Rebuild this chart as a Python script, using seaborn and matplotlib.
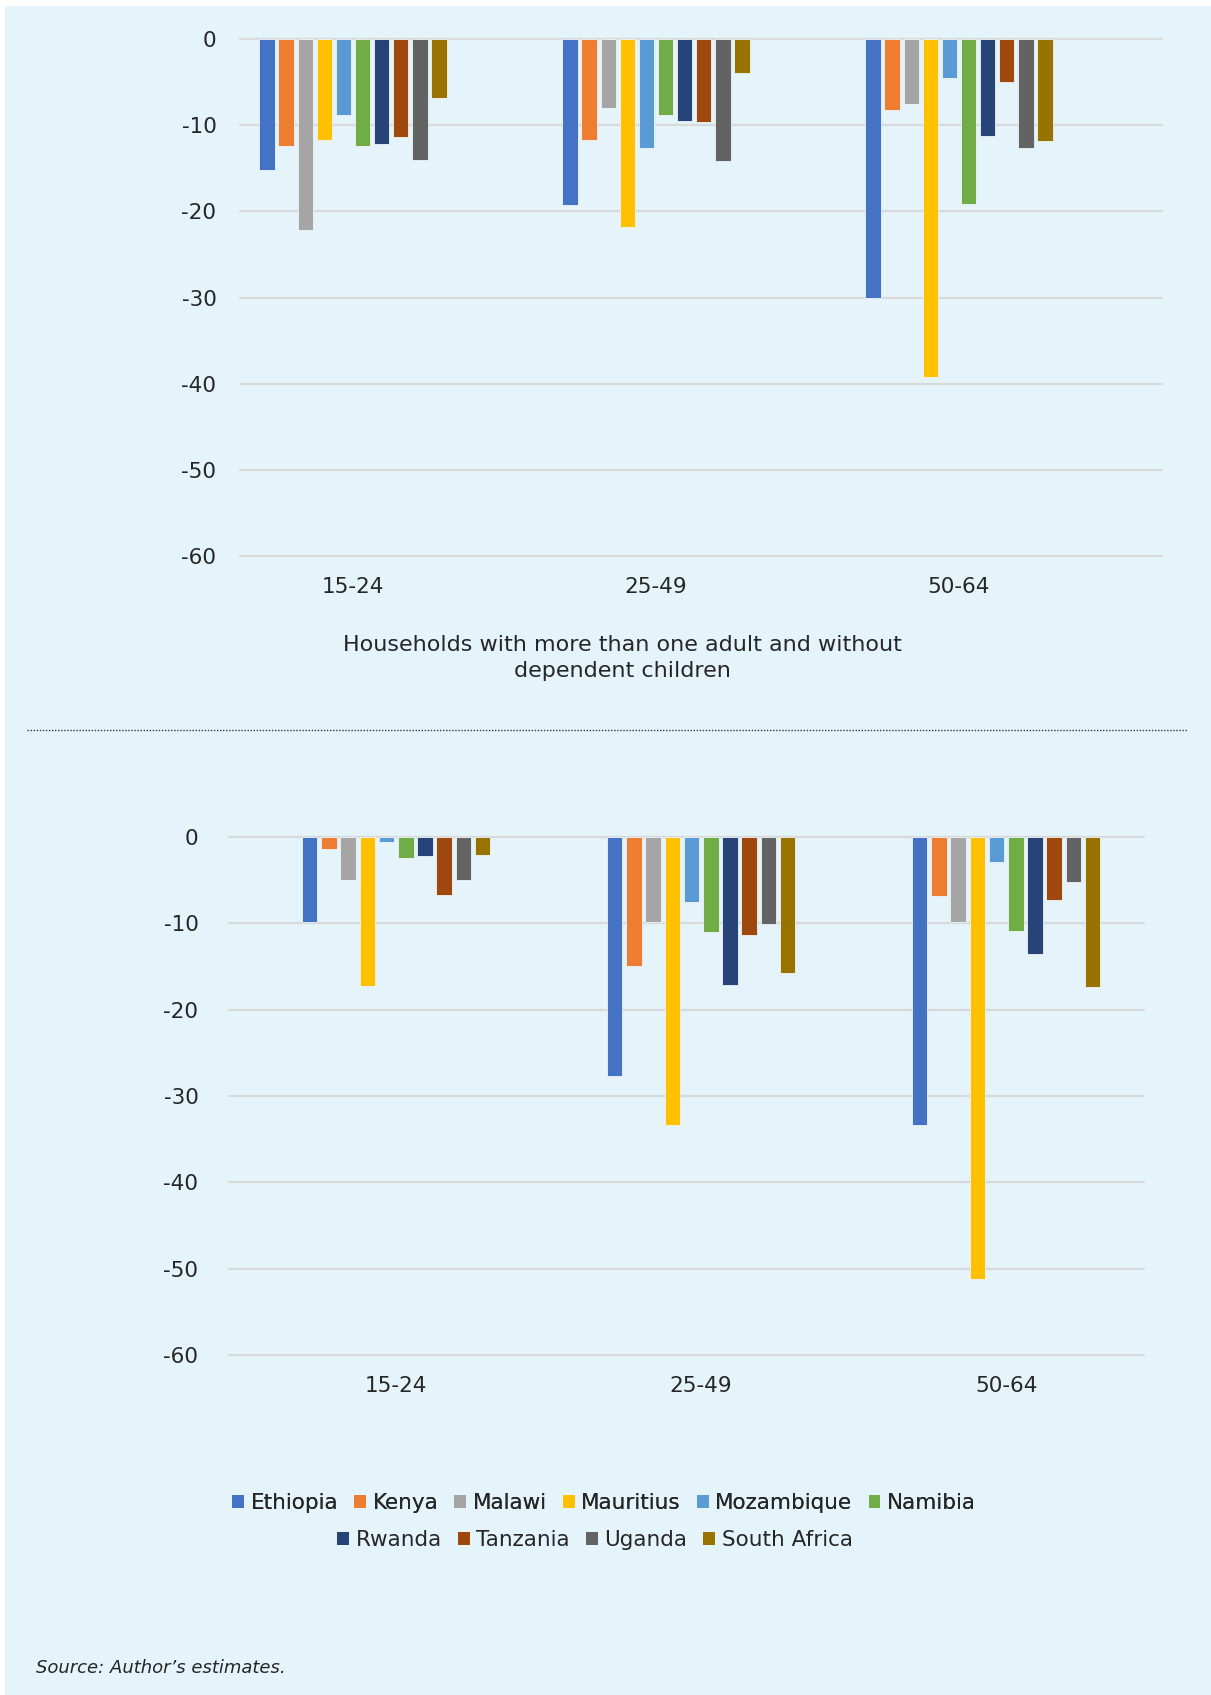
import numpy as np
import pandas as pd
import seaborn as sns
import matplotlib
matplotlib.use("Agg")
import matplotlib.pyplot as plt
from matplotlib.patches import Patch, Rectangle
from matplotlib.lines import Line2D

# ---------------- data ----------------
countries = ["Ethiopia", "Kenya", "Malawi", "Mauritius", "Mozambique",
             "Namibia", "Rwanda", "Tanzania", "Uganda", "South Africa"]
age_groups = ["15-24", "25-49", "50-64"]

top_15_24 = [-15.2, -12.4, -22.2, -11.7, -8.8, -12.4, -12.2, -11.4, -14.1, -6.8]
top_25_49 = [-19.3, -11.7, -8.0, -21.8, -12.6, -8.8, -9.5, -9.6, -14.2, -4.0]
top_50_64 = [-30.0, -8.3, -7.6, -39.2, -4.5, -19.2, -11.3, -5.0, -12.6, -11.8]

bottom_15_24 = [-9.9, -1.4, -5.0, -17.3, -0.6, -2.5, -2.2, -6.7, -5.0, -2.1]
bottom_25_49 = [-27.7, -15.0, -9.9, -33.4, -7.6, -11.0, -17.2, -11.4, -10.1, -15.8]
bottom_50_64 = [-33.4, -6.8, -9.9, -51.2, -2.9, -10.9, -13.6, -7.3, -5.2, -17.4]

y_ticks = [0, -10, -20, -30, -40, -50, -60]
top_xlabel = "Households with more than one adult and without\ndependent children"
source_text = "Source: Author\u2019s estimates."

colors = ["#4472C4", "#ED7D31", "#A5A5A5", "#FFC000", "#5B9BD5",
          "#70AD47", "#264478", "#9E480E", "#636363", "#997300"]
palette = dict(zip(countries, colors))


def to_long(series_by_age):
    rows = []
    for age, vals in zip(age_groups, series_by_age):
        for c, v in zip(countries, vals):
            rows.append({"age": age, "country": c, "value": v})
    return pd.DataFrame(rows)


df_top = to_long([top_15_24, top_25_49, top_50_64])
df_bot = to_long([bottom_15_24, bottom_25_49, bottom_50_64])

# ---------------- style ----------------
sns.set_theme(style="white")
plt.rcParams["font.family"] = ["DejaVu Sans"]
BG = "#E5F3FA"
TXT = "#262626"
GRID = "#D9D9D9"

W, H = 1211, 1695
fig = plt.figure(figsize=(W / 100, H / 100), dpi=100, facecolor="white")
fig.add_artist(Rectangle((5 / W, 0), 1 - 5 / W, 1 - 6 / H, transform=fig.transFigure,
                         facecolor=BG, edgecolor="none", zorder=-10))


def fx(px):
    return px / W


def fy(py):
    return 1 - py / H


def make_axes(left, right, top, bottom):
    return fig.add_axes([fx(left), fy(bottom), fx(right - left), (bottom - top) / H])


ax1 = make_axes(240, 1162, 38.9, 556.3)
ax2 = make_axes(229, 1144, 836.8, 1355)


def draw(ax, df, xlim, pad_y):
    ax.set_facecolor("none")
    sns.barplot(data=df, x="age", y="value", hue="country", hue_order=countries,
                order=age_groups, palette=palette, saturation=1, width=0.63, gap=0.19,
                errorbar=None, legend=False, ax=ax, edgecolor="#EEF5FA", linewidth=0.6,
                zorder=3)
    ax.set_ylim(-60, 0)
    ax.set_xlim(*xlim)
    ax.set_yticks(y_ticks)
    ax.set_yticklabels([str(t) for t in y_ticks])
    for t in y_ticks:
        ax.axhline(t, color=GRID, lw=1.6, zorder=1, clip_on=False)
    for s in ax.spines.values():
        s.set_visible(False)
    ax.tick_params(axis="y", length=0, pad=pad_y, labelsize=15.5, labelcolor=TXT)
    ax.tick_params(axis="x", length=0, pad=15, labelsize=15.5, labelcolor=TXT)
    ax.set_xlabel("")
    ax.set_ylabel("")
    ax.grid(False)


draw(ax1, df_top, (-0.373, 2.67), 17)
draw(ax2, df_bot, (-0.548, 2.452), 22)

# top chart x label
fig.text(fx(622), fy(658), top_xlabel, ha="center", va="center", fontsize=16,
         color=TXT, linespacing=1.4)

# dotted separator
fig.add_artist(Line2D([fx(27), fx(1188)], [fy(730), fy(730)], transform=fig.transFigure,
                      color="#3A3A3A", lw=1.0, linestyle=(0, (1, 1.2))))

# legend (two centred rows)
handles = [Patch(facecolor=palette[c], edgecolor="none", label=c) for c in countries]
leg_kw = dict(frameon=False, fontsize=15.5, handlelength=0.55, handleheight=0.55,
              handletextpad=0.3, columnspacing=0.75, labelcolor=TXT, borderaxespad=0)
leg1 = fig.legend(handles=handles[:6], ncol=6, loc="center",
                  bbox_to_anchor=(fx(604), fy(1503)), **leg_kw)
fig.add_artist(leg1)
leg2 = fig.legend(handles=handles[6:], ncol=4, loc="center",
                  bbox_to_anchor=(fx(595), fy(1540)), **leg_kw)

# source
fig.text(fx(36), fy(1668), source_text, ha="left", va="center", fontsize=13,
         style="italic", color=TXT)

fig.savefig("out.png", dpi=100, facecolor=fig.get_facecolor())
